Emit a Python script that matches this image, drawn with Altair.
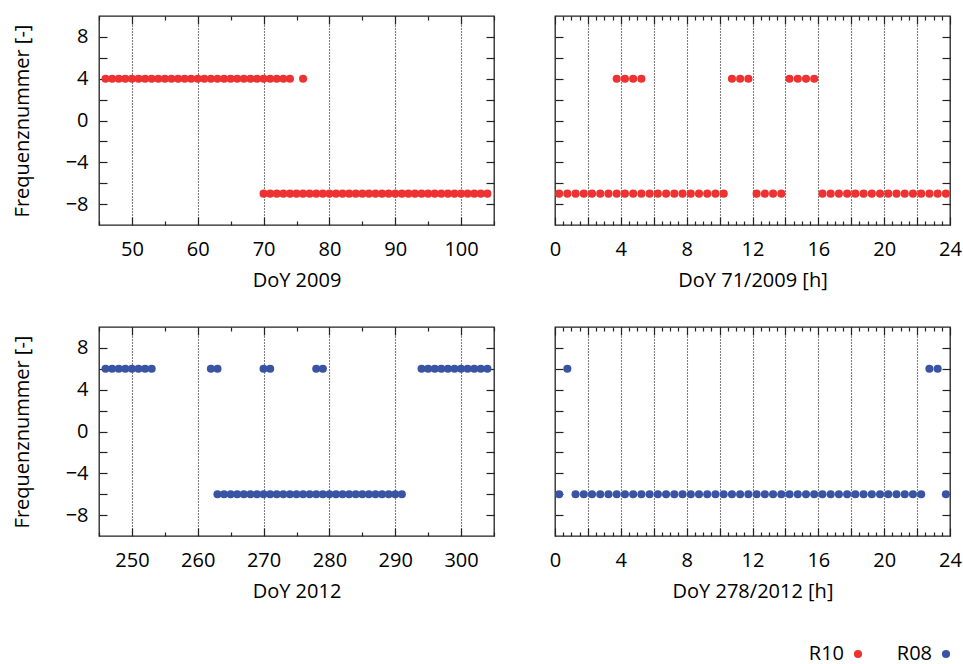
import altair as alt
import pandas as pd

FONT = "Open Sans"
FS = 20
INK = "#222222"
RED = "#ee3131"
BLUE = "#3a54a4"

# ---------------- data ----------------
# Panel 1: DoY 2009, satellite R10 (frequency number per day)
p1_days_f4 = [46, 47, 48, 49, 50, 51, 52, 53, 54, 55, 56, 57, 58, 59, 60,
              61, 62, 63, 64, 65, 66, 67, 68, 69, 70, 71, 72, 73, 74, 76]
p1_days_fm7 = [70, 71, 72, 73, 74, 75, 76, 77, 78, 79, 80, 81, 82, 83, 84,
               85, 86, 87, 88, 89, 90, 91, 92, 93, 94, 95, 96, 97, 98, 99,
               100, 101, 102, 103, 104]

# Panel 2: DoY 71/2009 [h], R10
p2_hours_f4 = [3.75, 4.25, 4.75, 5.25, 10.75, 11.25, 11.75,
               14.25, 14.75, 15.25, 15.75]
p2_hours_fm7 = [0.25, 0.75, 1.25, 1.75, 2.25, 2.75, 3.25, 3.75, 4.25, 4.75,
                5.25, 5.75, 6.25, 6.75, 7.25, 7.75, 8.25, 8.75, 9.25, 9.75,
                10.25, 12.25, 12.75, 13.25, 13.75, 16.25, 16.75, 17.25,
                17.75, 18.25, 18.75, 19.25, 19.75, 20.25, 20.75, 21.25,
                21.75, 22.25, 22.75, 23.25, 23.75]

# Panel 3: DoY 2012, R08
p3_days_f6 = [246, 247, 248, 249, 250, 251, 252, 253, 262, 263, 270, 271,
              278, 279, 294, 295, 296, 297, 298, 299, 300, 301, 302, 303, 304]
p3_days_fm6 = [263, 264, 265, 266, 267, 268, 269, 270, 271, 272, 273, 274,
               275, 276, 277, 278, 279, 280, 281, 282, 283, 284, 285, 286,
               287, 288, 289, 290, 291]

# Panel 4: DoY 278/2012 [h], R08
p4_hours_f6 = [0.75, 22.75, 23.25]
p4_hours_fm6 = [0.25, 1.25, 1.75, 2.25, 2.75, 3.25, 3.75, 4.25, 4.75, 5.25,
                5.75, 6.25, 6.75, 7.25, 7.75, 8.25, 8.75, 9.25, 9.75, 10.25,
                10.75, 11.25, 11.75, 12.25, 12.75, 13.25, 13.75, 14.25,
                14.75, 15.25, 15.75, 16.25, 16.75, 17.25, 17.75, 18.25,
                18.75, 19.25, 19.75, 20.25, 20.75, 21.25, 21.75, 22.25, 23.75]

# axis tick values / labels
y_ticks = [-8, -6, -4, -2, 0, 2, 4, 6, 8]
day_major_2009 = [50, 60, 70, 80, 90, 100]
day_minor_2009 = [45, 55, 65, 75, 85, 95, 105]
day_major_2012 = [250, 260, 270, 280, 290, 300]
day_minor_2012 = [245, 255, 265, 275, 285, 295, 305]
hour_major = [0, 2, 4, 6, 8, 10, 12, 14, 16, 18, 20, 22, 24]
hour_grid = [2, 4, 6, 8, 10, 12, 14, 16, 18, 20, 22]
hour_minor = [0.5, 1, 1.5, 2.5, 3, 3.5, 4.5, 5, 5.5, 6.5, 7, 7.5, 8.5, 9,
              9.5, 10.5, 11, 11.5, 12.5, 13, 13.5, 14.5, 15, 15.5, 16.5, 17,
              17.5, 18.5, 19, 19.5, 20.5, 21, 21.5, 22.5, 23, 23.5]

legend_names = ["R10", "R08"]
legend_colors = [RED, BLUE]

W, H = 395, 209
PT = 66


def panel(x_hi, x_lo, f_hi, f_lo, color, xdom, xmaj, xmin, xgrid, lab_step,
          xtitle, left_labels):
    df = pd.DataFrame({
        "t": x_hi + x_lo,
        "f": [f_hi] * len(x_hi) + [f_lo] * len(x_lo),
    })
    base = alt.Chart(df)
    xs = alt.Scale(domain=xdom, nice=False, zero=False)
    ys = alt.Scale(domain=[-10, 10], nice=False, zero=False)
    tick_common = dict(domain=False, grid=False, tickColor=INK, tickWidth=1.2)

    xb_major = alt.Axis(orient="bottom", values=xmaj, tickSize=8, offset=-8,
                        labels=True, labelOverlap=False, labelFlush=False,
                        labelExpr=f"datum.value % {lab_step} == 0 ? datum.label : ''",
                        labelFont=FONT, labelFontSize=FS, labelColor="black",
                        labelPadding=14, title=xtitle, titleFont=FONT,
                        titleFontSize=FS, titleFontWeight="normal",
                        titleColor="black", titlePadding=11, **tick_common)
    xb_minor = alt.Axis(orient="bottom", values=xmin, tickSize=4, offset=-4,
                        labels=False, title=None, **tick_common)
    xt_major = alt.Axis(orient="top", values=xmaj, tickSize=8, offset=-8,
                        labels=False, title=None, **tick_common)
    xt_minor = alt.Axis(orient="top", values=xmin, tickSize=4, offset=-4,
                        labels=False, title=None, **tick_common)
    x_grid = alt.Axis(orient="bottom", values=xgrid, ticks=False, labels=False,
                      domain=False, grid=True, gridColor="black",
                      gridDash=[1, 2], gridWidth=1.1, title=None)
    if left_labels:
        yl = alt.Axis(orient="left", values=y_ticks, tickSize=8, offset=-8,
                      labels=True, labelOverlap=False, labelFlush=False,
                      labelExpr="datum.value % 4 == 0 ? datum.label : ''",
                      labelFont=FONT, labelFontSize=FS, labelColor="black",
                      labelPadding=11, title="Frequenznummer [-]",
                      titleFont=FONT, titleFontSize=FS,
                      titleFontWeight="normal", titleColor="black",
                      titlePadding=33, **tick_common)
    else:
        yl = alt.Axis(orient="left", values=y_ticks, tickSize=8, offset=-8,
                      labels=False, title=None, **tick_common)
    yr = alt.Axis(orient="right", values=y_ticks, tickSize=8, offset=-8,
                  labels=False, title=None, **tick_common)

    grid_layer = base.mark_circle(opacity=0).encode(
        x=alt.X("t:Q", scale=xs, axis=x_grid),
        y=alt.Y("f:Q", scale=ys, axis=None))
    pts = base.mark_circle(size=PT, opacity=1, color=color).encode(
        x=alt.X("t:Q", scale=xs, axis=xb_major),
        y=alt.Y("f:Q", scale=ys, axis=yl))
    l2 = base.mark_circle(opacity=0).encode(
        x=alt.X("t:Q", scale=xs, axis=xb_minor),
        y=alt.Y("f:Q", scale=ys, axis=yr))
    l3 = base.mark_circle(opacity=0).encode(
        x=alt.X("t:Q", scale=xs, axis=xt_major),
        y=alt.Y("f:Q", scale=ys, axis=None))
    l4 = base.mark_circle(opacity=0).encode(
        x=alt.X("t:Q", scale=xs, axis=xt_minor),
        y=alt.Y("f:Q", scale=ys, axis=None))
    return alt.layer(grid_layer, pts, l2, l3, l4).resolve_axis(
        x="independent", y="independent").properties(width=W, height=H)


tl = panel(p1_days_f4, p1_days_fm7, 4, -7, RED, [45, 105], day_major_2009,
           day_minor_2009, day_major_2009, 10, "DoY 2009", True)
tr = panel(p2_hours_f4, p2_hours_fm7, 4, -7, RED, [0, 24], hour_major,
           hour_minor, hour_grid, 4, "DoY 71/2009 [h]", False)
bl = panel(p3_days_f6, p3_days_fm6, 6, -6, BLUE, [245, 305], day_major_2012,
           day_minor_2012, day_major_2012, 10, "DoY 2012", True)
br = panel(p4_hours_f6, p4_hours_fm6, 6, -6, BLUE, [0, 24], hour_major,
           hour_minor, hour_grid, 4, "DoY 278/2012 [h]", False)

leg_df = pd.DataFrame({"name": legend_names, "color": legend_colors})
leg_x = alt.X("name:N", sort=legend_names,
              scale=alt.Scale(domain=legend_names, range=[759, 847], padding=0),
              axis=None)
leg_text = alt.Chart(leg_df).mark_text(
    align="right", baseline="middle", dx=-14, font=FONT, fontSize=FS,
    color="black").encode(x=leg_x, text="name:N")
leg_pts = alt.Chart(leg_df).mark_circle(size=PT, opacity=1).encode(
    x=leg_x, color=alt.Color("color:N", scale=None))
legend = alt.layer(leg_text, leg_pts).properties(
    width=851, height=10, view=alt.ViewBackground(strokeOpacity=0))

grid = alt.vconcat(
    alt.hconcat(tl, tr, spacing=52),
    alt.hconcat(bl, br, spacing=52),
    spacing=34,
)

chart = alt.vconcat(grid, legend, spacing=42).properties(
    padding={"left": 11, "top": 14, "right": 0, "bottom": 0},
).configure_view(stroke=INK, strokeWidth=1.3)

chart.save("out.html", embed_options={"renderer": "svg", "actions": False})
